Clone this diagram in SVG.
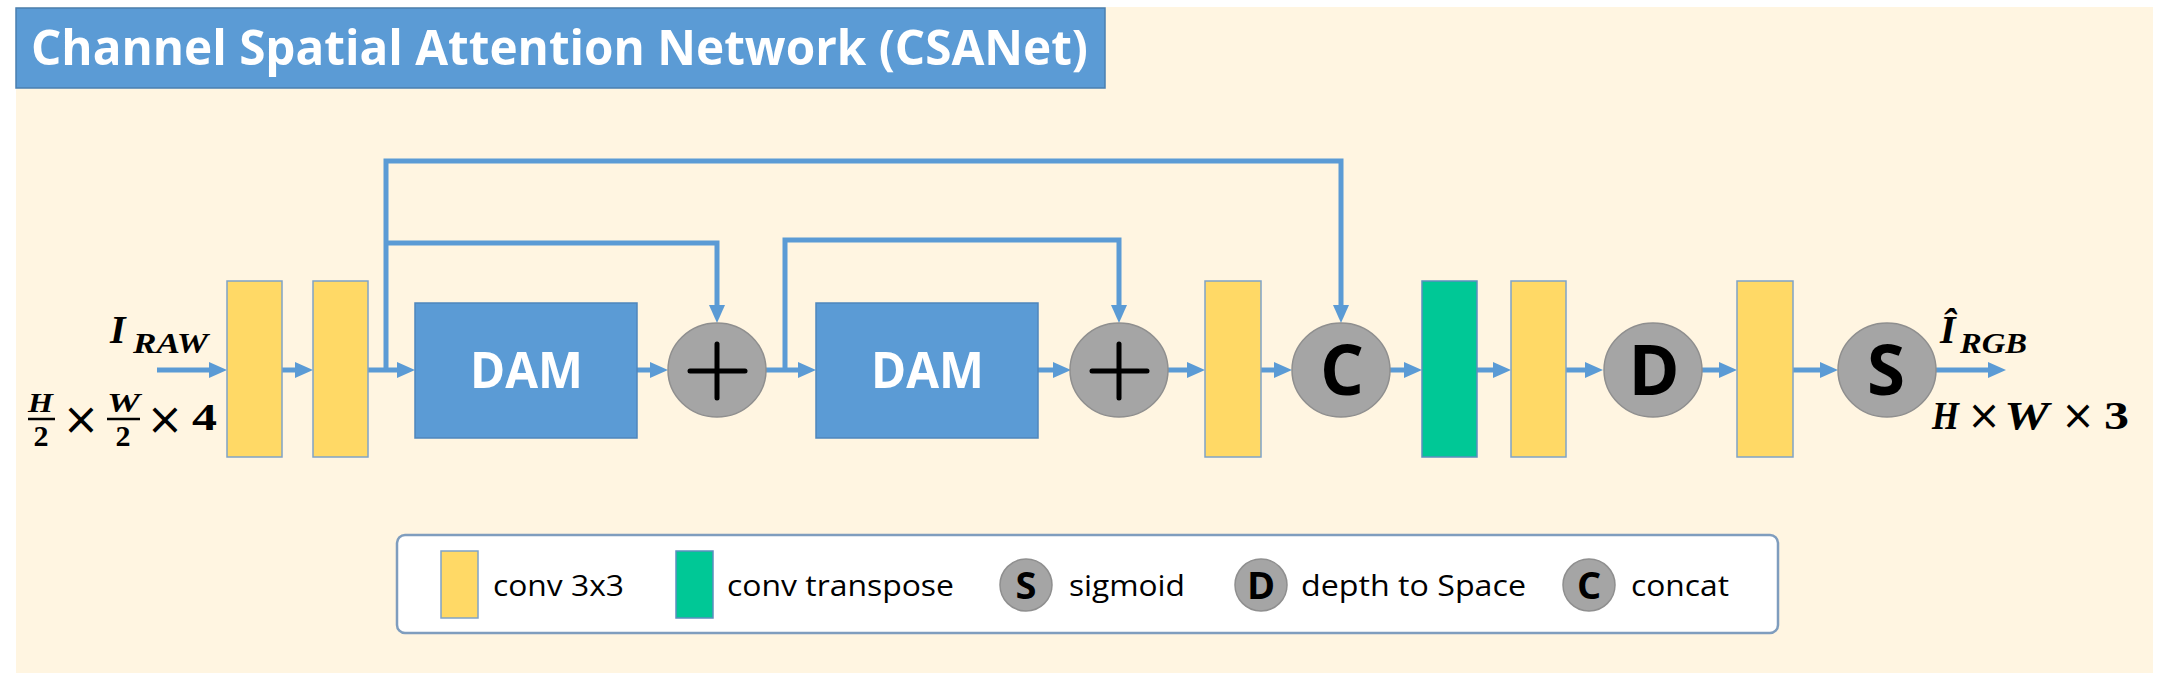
<svg xmlns="http://www.w3.org/2000/svg" width="2174" height="694" viewBox="0 0 2174 694">
<defs>
<style>
.bg{fill:#FFF5E1}
.conv{fill:#FFD966;stroke:#7FA3C8;stroke-width:1.5}
.tconv{fill:#00C896;stroke:#5B8FBF;stroke-width:1.5}
.dam{fill:#5B9BD5;stroke:#4F86BC;stroke-width:1.5}
.op{fill:#A5A5A5;stroke:#8F8F8F;stroke-width:1.5}
.wire{fill:none;stroke:#5B9BD5;stroke-width:5;stroke-linejoin:miter;marker-end:url(#ah)}
.plus{stroke:#000;stroke-width:5;stroke-linecap:round}
.dt{font-family:"Open Sans","Liberation Sans",sans-serif;font-weight:700;fill:#fff}
.lt{font-family:"Open Sans","Liberation Sans",sans-serif;font-weight:700;fill:#000;text-anchor:middle}
.leg{font-family:"Open Sans","Liberation Sans",sans-serif;font-size:30px;fill:#000}
.m{font-family:"Liberation Serif","DejaVu Serif",serif;font-weight:700;fill:#000}
.mi{font-style:italic}
.x{font-family:"DejaVu Sans","Liberation Sans",sans-serif;font-weight:400;fill:#000;text-anchor:middle}
</style>
<marker id="ah" markerUnits="userSpaceOnUse" markerWidth="18" markerHeight="16" refX="6" refY="8" orient="auto">
<path d="M0,0 L18,8 L0,16 z" fill="#5B9BD5"/>
</marker>
</defs>
<rect class="bg" x="16" y="7" width="2137" height="666"/>
<g id="title">
<rect x="16" y="8" width="1089" height="80" fill="#5B9BD5" stroke="#4A7FB0" stroke-width="1.5"/>
<text x="31" y="65" class="dt" font-size="49" textLength="1057" lengthAdjust="spacingAndGlyphs">Channel Spatial Attention Network (CSANet)</text>
</g>
<g id="connectors">
<path class="wire" d="M157,370 H215"/>
<path class="wire" d="M282,370 H301"/>
<path class="wire" d="M368,370 H403"/>
<path class="wire" d="M386,370 V161 H1341 V311"/>
<path class="wire" d="M386,243 H717 V311"/>
<path class="wire" d="M637,370 H656"/>
<path class="wire" d="M766,370 H804"/>
<path class="wire" d="M785,370 V240 H1119 V311"/>
<path class="wire" d="M1038,370 H1059"/>
<path class="wire" d="M1168,370 H1193"/>
<path class="wire" d="M1261,370 H1280"/>
<path class="wire" d="M1390,370 H1410"/>
<path class="wire" d="M1477,370 H1499"/>
<path class="wire" d="M1566,370 H1591"/>
<path class="wire" d="M1702,370 H1725"/>
<path class="wire" d="M1793,370 H1826"/>
<path class="wire" d="M1936,370 H1994"/>
</g>
<g id="conv1"><rect class="conv" x="227" y="281" width="55" height="176"/></g>
<g id="conv2"><rect class="conv" x="313" y="281" width="55" height="176"/></g>
<g id="dam1"><rect class="dam" x="415" y="303" width="222" height="135"/>
<text class="dt" x="470" y="388" font-size="50" textLength="113" lengthAdjust="spacingAndGlyphs">DAM</text></g>
<g id="add1"><ellipse class="op" cx="717" cy="370" rx="49" ry="47"/>
<line class="plus" x1="690" y1="371" x2="745" y2="371"/><line class="plus" x1="717" y1="344" x2="717" y2="398"/></g>
<g id="dam2"><rect class="dam" x="816" y="303" width="222" height="135"/>
<text class="dt" x="871" y="388" font-size="50" textLength="113" lengthAdjust="spacingAndGlyphs">DAM</text></g>
<g id="add2"><ellipse class="op" cx="1119" cy="370" rx="49" ry="47"/>
<line class="plus" x1="1092" y1="371" x2="1147" y2="371"/><line class="plus" x1="1119" y1="344" x2="1119" y2="398"/></g>
<g id="conv3"><rect class="conv" x="1205" y="281" width="56" height="176"/></g>
<g id="concat"><ellipse class="op" cx="1341" cy="370" rx="49" ry="47"/>
<text class="lt" x="1342" y="395" font-size="69">C</text></g>
<g id="convT"><rect class="tconv" x="1422" y="281" width="55" height="176"/></g>
<g id="conv4"><rect class="conv" x="1511" y="281" width="55" height="176"/></g>
<g id="d2s"><ellipse class="op" cx="1653" cy="370" rx="49" ry="47"/>
<text class="lt" x="1654" y="395" font-size="69">D</text></g>
<g id="conv5"><rect class="conv" x="1737" y="281" width="56" height="176"/></g>
<g id="sigmoid"><ellipse class="op" cx="1887" cy="370" rx="49" ry="47"/>
<text class="lt" x="1886" y="395" font-size="69">S</text></g>
<g id="input-label">
<text class="m mi" x="110" y="343" font-size="40">I</text>
<text class="m mi" x="133" y="353" font-size="30" textLength="75" lengthAdjust="spacingAndGlyphs">RAW</text>
<text class="m mi" x="28" y="412" font-size="27" textLength="25" lengthAdjust="spacingAndGlyphs">H</text>
<line x1="28" y1="419" x2="55" y2="419" stroke="#000" stroke-width="2.5"/>
<text class="m" x="41" y="446" font-size="30" text-anchor="middle">2</text>
<text class="x" x="81" y="434" font-size="44">×</text>
<text class="m mi" x="107" y="412" font-size="27" textLength="33" lengthAdjust="spacingAndGlyphs">W</text>
<line x1="107" y1="419" x2="140" y2="419" stroke="#000" stroke-width="2.5"/>
<text class="m" x="123" y="446" font-size="30" text-anchor="middle">2</text>
<text class="x" x="165" y="434" font-size="44">×</text>
<text class="m" x="192" y="430" font-size="38" textLength="25" lengthAdjust="spacingAndGlyphs">4</text>
</g>
<g id="output-label">
<text class="m mi" x="1940" y="343" font-size="40">Î</text>
<text class="m mi" x="1960" y="353" font-size="30" textLength="67" lengthAdjust="spacingAndGlyphs">RGB</text>
<text class="m mi" x="1932" y="429" font-size="40" textLength="27" lengthAdjust="spacingAndGlyphs">H</text>
<text class="x" x="1984" y="429" font-size="40">×</text>
<text class="m mi" x="2004" y="429" font-size="40" textLength="45" lengthAdjust="spacingAndGlyphs">W</text>
<text class="x" x="2078" y="429" font-size="40">×</text>
<text class="m" x="2104" y="429" font-size="40" textLength="25" lengthAdjust="spacingAndGlyphs">3</text>
</g>
<g id="legend">
<rect x="397" y="535" width="1381" height="98" rx="8" fill="#fff" stroke="#7F9DBE" stroke-width="2.5"/>
<rect class="conv" x="441" y="551" width="37" height="67"/>
<text class="leg" x="493" y="596" textLength="131" lengthAdjust="spacingAndGlyphs">conv 3x3</text>
<rect class="tconv" x="676" y="551" width="37" height="67"/>
<text class="leg" x="727" y="596" textLength="227" lengthAdjust="spacingAndGlyphs">conv transpose</text>
<circle class="op" cx="1026" cy="585" r="26"/>
<text class="lt" x="1026" y="599" font-size="38">S</text>
<text class="leg" x="1069" y="596" textLength="116" lengthAdjust="spacingAndGlyphs">sigmoid</text>
<circle class="op" cx="1261" cy="585" r="26"/>
<text class="lt" x="1261" y="599" font-size="38">D</text>
<text class="leg" x="1301" y="596" textLength="225" lengthAdjust="spacingAndGlyphs">depth to Space</text>
<circle class="op" cx="1589" cy="585" r="26"/>
<text class="lt" x="1589" y="599" font-size="38">C</text>
<text class="leg" x="1631" y="596" textLength="98" lengthAdjust="spacingAndGlyphs">concat</text>
</g>
</svg>
